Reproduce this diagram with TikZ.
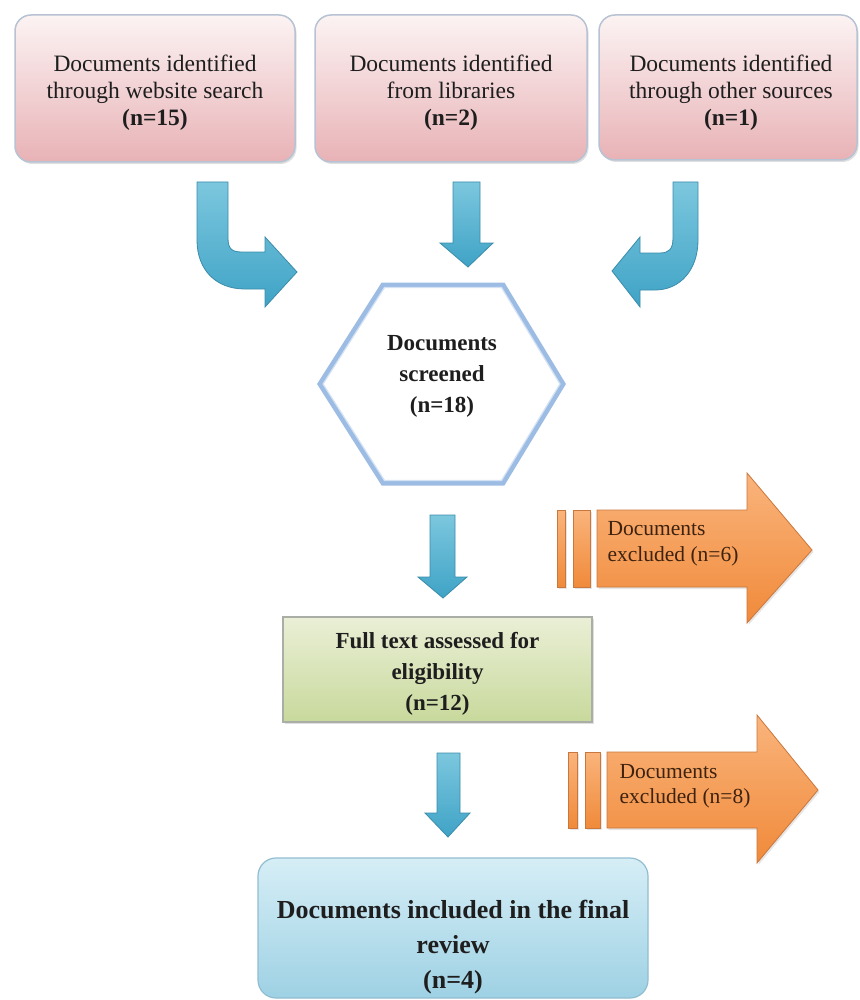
\documentclass[tikz,border=0pt]{standalone}
\usepackage{fontspec}
\setmainfont{Liberation Serif}
\usetikzlibrary{shadows}
\definecolor{pinktop}{HTML}{FCF3F3}
\definecolor{pinkbot}{HTML}{E8B2B6}
\definecolor{boxline}{HTML}{B7C3D3}
\definecolor{bluetop}{HTML}{7CC7DE}
\definecolor{bluebot}{HTML}{3FA3C6}
\definecolor{blueedge}{HTML}{3A8CAA}
\definecolor{hexline}{HTML}{9DBCE4}
\definecolor{hexinner}{HTML}{D3E2F4}
\definecolor{greentop}{HTML}{EAEFD6}
\definecolor{greenbot}{HTML}{C8D99C}
\definecolor{greenline}{HTML}{A9AFA6}
\definecolor{orgtop}{HTML}{FAB47C}
\definecolor{orgbot}{HTML}{F08A3A}
\definecolor{orgedge}{HTML}{C9773C}
\definecolor{fintop}{HTML}{D6EEF6}
\definecolor{finbot}{HTML}{9ED1E4}
\definecolor{finline}{HTML}{92BDD0}
\definecolor{txt}{HTML}{1E1E1E}
\definecolor{orgtxt}{HTML}{3E220E}
\tikzset{
  srcbox/.style={draw=boxline, line width=1.5pt, rounded corners=16pt,
    top color=pinktop, bottom color=pinkbot,
    drop shadow={opacity=0.25, shadow xshift=1.5pt, shadow yshift=-2pt}},
  srctxt/.style={align=center, text=txt, font=\fontsize{23.5}{27}\selectfont},
  bluearrow/.style={draw=blueedge, line width=0.8pt, top color=bluetop, bottom color=bluebot},
  orgarrow/.style={draw=orgedge, line width=0.8pt, top color=orgtop, bottom color=orgbot,
    drop shadow={opacity=0.2, shadow xshift=1.5pt, shadow yshift=-2pt}},
  boldtxt/.style={align=center, text=txt, font=\bfseries\fontsize{23}{31}\selectfont},
  exctxt/.style={align=left, text=orgtxt, anchor=west, font=\fontsize{21.5}{25.5}\selectfont},
}
\begin{document}
\begin{tikzpicture}[x=1pt,y=-1pt]
\useasboundingbox[fill=white] (0,0) rectangle (859,1000);

% source boxes
\node[srcbox, minimum width=280pt, minimum height=147pt] (b1) at (155,88.5) {};
\node[srcbox, minimum width=272pt, minimum height=147pt] (b2) at (451,88.5) {};
\node[srcbox, minimum width=258pt, minimum height=145pt] (b3) at (728,87.5) {};
\node[srctxt] (b1t) at (155,92.5) {Documents identified\\through website search\\\textbf{(n=15)}};
\node[srctxt] (b2t) at (451,92.5) {Documents identified\\from libraries\\\textbf{(n=2)}};
\node[srctxt] (b3t) at (731,92.5) {Documents identified\\through other sources\\\textbf{(n=1)}};

% blue arrows from sources
\path[bluearrow] (197,182) -- (228,182) -- (228,238)
  .. controls (228,249) and (232,252) .. (242,252) -- (265,252) -- (265,237)
  -- (297,272) -- (265,307) -- (265,289) -- (245,289)
  .. controls (216,289) and (197,270) .. (197,240) -- cycle;
\path[bluearrow] (453,182) -- (480,182) -- (480,243) -- (493,243) -- (468,267)
  -- (440,243) -- (453,243) -- cycle;
\path[bluearrow] (698,182) -- (673,182) -- (673,238)
  .. controls (673,249) and (669,253) .. (660,253) -- (640,253) -- (640,237)
  -- (612,271) -- (640,307) -- (640,290) -- (655,290)
  .. controls (680,290) and (698,270) .. (698,240) -- cycle;

% hexagon
\draw[hexline, line width=5pt, fill=white, line join=miter]
  (383,285) -- (503,285) -- (563,384) -- (503,483) -- (383,483) -- (320,384) -- cycle;
\draw[hexinner, line width=1.2pt, line join=miter]
  (384.5,287.5) -- (501.5,287.5) -- (560,384) -- (501.5,480.5) -- (384.5,480.5) -- (323,384) -- cycle;
\node[boldtxt] (hex) at (442,376.5) {Documents\\screened\\(n=18)};

% arrow hexagon -> full text
\path[bluearrow] (430,515) -- (455,515) -- (455,577) -- (467,577) -- (443,598)
  -- (418,577) -- (430,577) -- cycle;

% excluded arrow 1
\path[orgarrow] (557,510) rectangle (565,587);
\path[orgarrow] (573,510) rectangle (590,587);
\path[orgarrow] (597,510) -- (747,510) -- (747,473) -- (812,550) -- (747,623)
  -- (747,587) -- (597,587) -- cycle;
\node[exctxt] (ex1) at (604,543.5) {Documents\\excluded (n=6)};

% full text box
\node[draw=greenline, line width=1.2pt, top color=greentop, bottom color=greenbot,
  minimum width=309pt, minimum height=105pt,
  drop shadow={opacity=0.25, shadow xshift=1.5pt, shadow yshift=-2pt}] (full) at (437.5,669.5) {};
\node[boldtxt] (fullt) at (437.5,674) {Full text assessed for\\eligibility\\(n=12)};

% arrow full text -> final
\path[bluearrow] (437,753) -- (460,753) -- (460,813) -- (470,813) -- (448,837)
  -- (425,813) -- (437,813) -- cycle;

% excluded arrow 2
\path[orgarrow] (568,752) rectangle (577,828);
\path[orgarrow] (585,752) rectangle (600,828);
\path[orgarrow] (607,752) -- (757,752) -- (757,715) -- (818,790) -- (757,863)
  -- (757,828) -- (607,828) -- cycle;
\node[exctxt] (ex2) at (616,786) {Documents\\excluded (n=8)};

% final box
\node[draw=finline, line width=1.2pt, rounded corners=18pt, top color=fintop, bottom color=finbot,
  minimum width=390pt, minimum height=140pt] (final) at (453,928) {};
\node[align=center, text=txt, font=\bfseries\fontsize{26}{35}\selectfont] (finaltxt) at (453,947.5)
  {Documents included in the final\\review\\(n=4)};
\end{tikzpicture}
\end{document}
